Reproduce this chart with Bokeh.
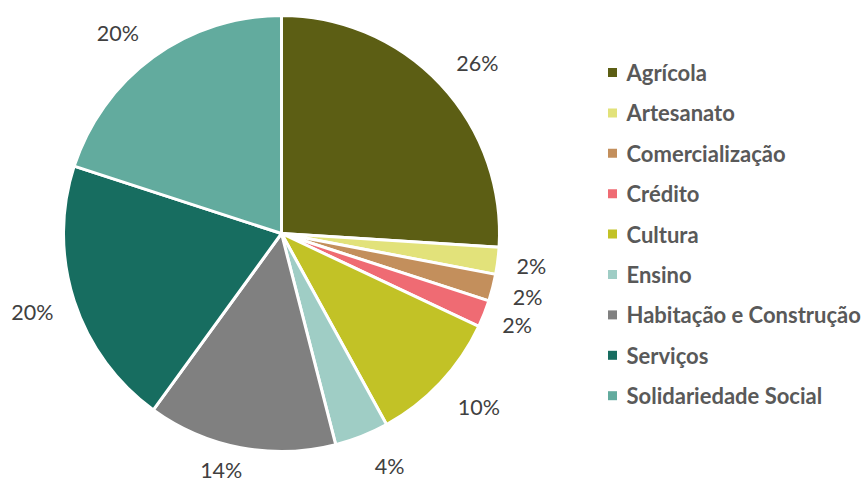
import math
from bokeh.plotting import figure
from bokeh.models import Range1d, ColumnDataSource
from bokeh.core.properties import value
from bokeh.embed import file_html
from bokeh.resources import INLINE

categories = ["Agrícola", "Artesanato", "Comercialização", "Crédito", "Cultura",
              "Ensino", "Habitação e Construção", "Serviços", "Solidariedade Social"]
counts = [13, 1, 1, 1, 5, 2, 7, 10, 10]
colors = ["#5C5E14", "#E2E27A", "#C38F5C", "#EF6B73", "#C2C226",
          "#9FCDC5", "#808080", "#176D60", "#62AB9E"]

W, H = 863, 486
p = figure(width=W, height=H, output_backend="svg", toolbar_location=None,
           x_axis_type=None, y_axis_type=None, min_border=0,
           x_range=Range1d(0, W), y_range=Range1d(0, H))
p.outline_line_color = None
p.grid.visible = False

cx, cy, R = 281, H - 233, 218
total = sum(counts)
starts, ends, lx, ly, labels = [], [], [], [], []
cum = 0
label_r = [260, 252, 254, 253, 263, 256, 244, 261, 259]
label_da = [2.1, 0.3, 0.0, -0.3, -1.8, -3.4, 3.5, 0.6, -3.2]
for i, c in enumerate(counts):
    a0 = cum / total
    cum += c
    a1 = cum / total
    starts.append(math.pi / 2 - 2 * math.pi * a1)
    ends.append(math.pi / 2 - 2 * math.pi * a0)
    mid = math.pi / 2 - 2 * math.pi * (a0 + a1) / 2 - math.radians(label_da[i])
    lx.append(cx + label_r[i] * math.cos(mid))
    ly.append(cy + label_r[i] * math.sin(mid))
    labels.append(f"{round(100 * c / total)}%")

src = ColumnDataSource(dict(start=starts, end=ends, color=colors, lx=lx, ly=ly, lab=labels))
p.wedge(x=cx, y=cy, radius=R, start_angle="start", end_angle="end", direction="anticlock",
        fill_color="color", line_color="white", line_width=3, source=src)
p.text(x="lx", y="ly", text="lab", source=src, text_font=value("Lato"),
       text_font_size="21.5px", text_color="#404040", text_align="center", text_baseline="middle")

# legend
ly0, step = H - 72, 40.4
leg_y = [ly0 - i * step for i in range(len(categories))]
leg = ColumnDataSource(dict(y=leg_y, name=categories, color=colors))
p.scatter(x=612, y="y", source=leg, marker="square", size=9, fill_color="color", line_color=None)
p.text(x=626, y="y", text="name", source=leg, text_font=value("Lato"), text_font_style="bold",
       text_font_size="22px", text_color="#595959", text_align="left", text_baseline="middle")

open("out.html", "w").write(file_html(p, INLINE))
